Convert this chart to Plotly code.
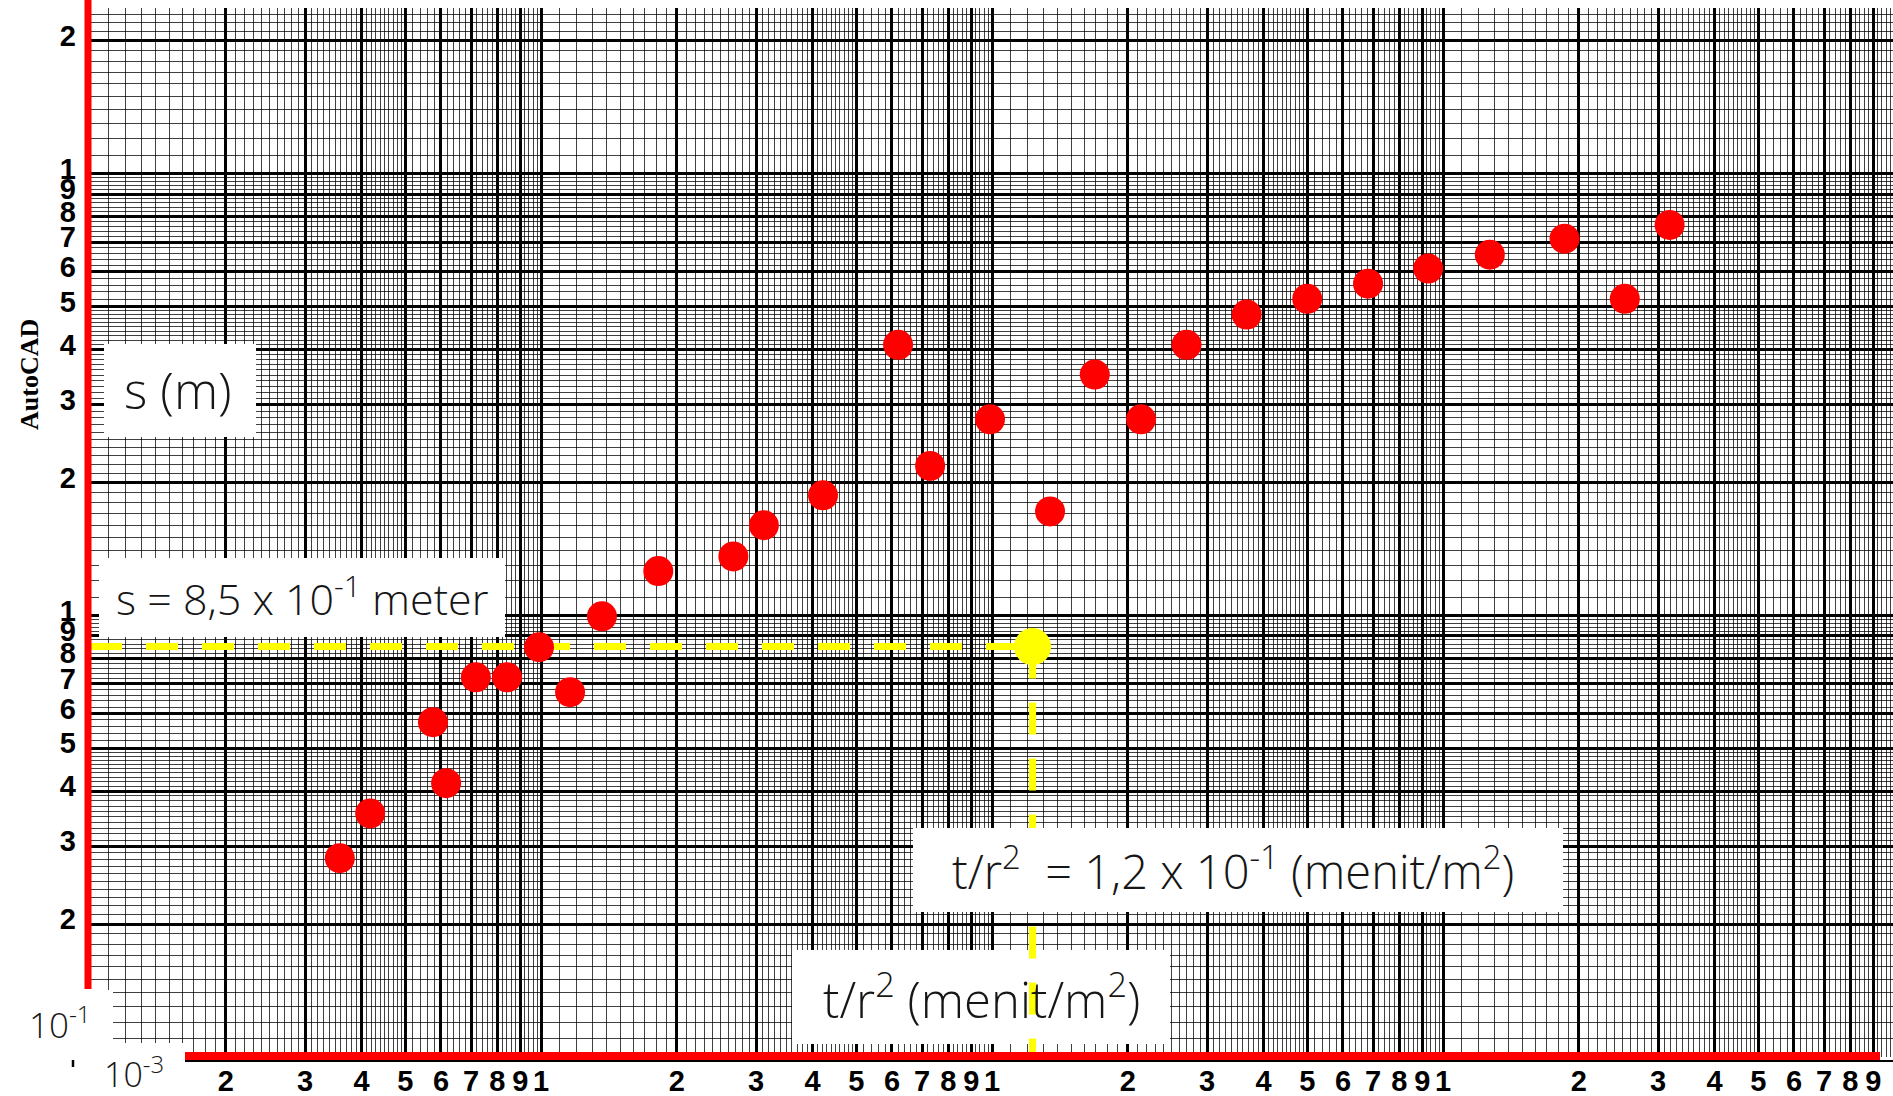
import numpy as np
import plotly.graph_objects as go

# ---- data ----
t_r2 = [0.00358, 0.00418, 0.00576, 0.00616, 0.00717, 0.00841, 0.0099, 0.0116,
        0.01365, 0.0182, 0.0267, 0.0312, 0.0422, 0.0619, 0.0729, 0.099, 0.1345,
        0.169, 0.214, 0.270, 0.367, 0.50, 0.682, 0.927, 1.27, 1.86, 2.53, 3.18]
s_m = [0.282, 0.356, 0.573, 0.417, 0.724, 0.724, 0.847, 0.670, 0.995, 1.26,
       1.36, 1.60, 1.87, 4.10, 2.18, 2.78, 1.72, 3.51, 2.78, 4.10, 4.80, 5.21,
       5.64, 6.10, 6.56, 7.13, 5.21, 7.66]
match_t = [0.123]
match_s = [0.85]

x_decades = [-3, -2, -1, 0]
y_decades = [-1, 0, 1]
digits = [1, 2, 3, 4, 5, 6, 7, 8, 9]

W, H = 1893, 1096
L, R, T, B = 90, 0, 8, 39
PW, PH = W - L - R, H - T - B
XR = [-3, -3 + PW / 451.0]
YR = [-1, -1 + PH / 441.6]


def px(xp):
    return (xp - L) / PW


def py(yp):
    return (H - B - yp) / PH


def major(decades, lo, hi):
    vals, txt = [], []
    for e in decades:
        for d in digits:
            v = d * 10.0 ** e
            if lo < np.log10(v) <= hi + 1e-9:
                vals.append(v)
                txt.append(str(d))
    return vals, txt


def minor(decades):
    vals = []
    for e in decades:
        for k in range(11, 50):
            if k % 10:
                vals.append(k / 10 * 10.0 ** e)
        for k in range(52, 100, 2):
            if k % 10:
                vals.append(k / 10 * 10.0 ** e)
    return vals


xv, xt = major(x_decades, XR[0], XR[1])
yv, yt = major(y_decades + [1], YR[0], YR[1])
xm = minor(x_decades)
ym = minor(y_decades + [1])

fig = go.Figure()

# yellow horizontal guide line (below the red points)
fig.add_trace(go.Scatter(x=[1e-3, match_t[0]], y=[match_s[0], match_s[0]], mode="lines",
                         line=dict(color="#ffff00", width=7, dash="32px,24px"),
                         hoverinfo="skip", showlegend=False))
# data points
fig.add_trace(go.Scatter(x=t_r2, y=s_m, mode="markers",
                         marker=dict(color="#ff0000", size=30, line=dict(width=0)),
                         showlegend=False))
fig.add_trace(go.Scatter(x=match_t, y=match_s, mode="markers",
                         marker=dict(color="#ffff00", size=37, line=dict(width=0)),
                         showlegend=False))

tickfont = dict(family="Liberation Sans", size=29, color="black", weight="bold")
fig.update_xaxes(type="log", range=XR, tickmode="array", tickvals=xv, ticktext=xt,
                 showgrid=True, gridcolor="black", gridwidth=3, ticks="", tickangle=0,
                 tickfont=tickfont, showline=False, zeroline=False, ticklabelstandoff=4,
                 minor=dict(tickmode="array", tickvals=xm, showgrid=True,
                            gridcolor="rgba(0,0,0,0.75)", gridwidth=1.2, ticks=""))
fig.update_yaxes(type="log", range=YR, tickmode="array", tickvals=yv, ticktext=yt,
                 showgrid=True, gridcolor="black", gridwidth=3, ticks="",
                 tickfont=tickfont, showline=False, zeroline=False, ticklabelstandoff=13,
                 ticklabelshift=-5,
                 minor=dict(tickmode="array", tickvals=ym, showgrid=True,
                            gridcolor="rgba(0,0,0,0.75)", gridwidth=1.2, ticks=""))

shapes = []


def rect(x0, y0, x1, y1):
    shapes.append(dict(type="rect", xref="paper", yref="paper", x0=px(x0), x1=px(x1),
                       y0=py(y1), y1=py(y0), fillcolor="white", line=dict(width=0),
                       layer="above"))


rect(104, 344, 256, 437)
rect(99, 558, 505, 637)
rect(792, 950, 1170, 1044)
# yellow vertical guide line, drawn over the lower label box
shapes.append(dict(type="line", xref="x", yref="y", x0=match_t[0], x1=match_t[0],
                   y0=match_s[0], y1=0.1, layer="above",
                   line=dict(color="#ffff00", width=7, dash="32px,24px")))
rect(913, 828, 1563, 912)
rect(89, 990, 113, 1060)
rect(89, 1043, 185, 1060)

# red axes
shapes.append(dict(type="line", xref="paper", yref="paper", x0=px(185), x1=px(1893),
                   y0=py(1061), y1=py(1061), line=dict(color="black", width=2), layer="above"))
shapes.append(dict(type="line", xref="paper", yref="paper", x0=px(185), x1=px(1880),
                   y0=py(1056), y1=py(1056), line=dict(color="#ff0000", width=8), layer="above"))
shapes.append(dict(type="line", xref="paper", yref="paper", x0=px(88), x1=px(88),
                   y0=py(0), y1=py(989), line=dict(color="#ff0000", width=7), layer="above"))
shapes.append(dict(type="line", xref="paper", yref="paper", x0=px(73), x1=px(73),
                   y0=py(1060), y1=py(1067), line=dict(color="black", width=2.5), layer="above"))

lf = dict(family="Open Sans", color="#161616", weight=300)
ann = []


def text(t, xc, yc, size, **kw):
    f = dict(lf, size=size)
    f.update(kw.pop("font", {}))
    ann.append(dict(text=t, x=px(xc), y=py(yc), xref="paper", yref="paper",
                    showarrow=False, xanchor="center", yanchor="middle", font=f, **kw))


text("s (m)", 178, 390, 50)
text("s = 8,5 x 10<sup>-1</sup> meter", 302, 596, 43)
text("t/r<sup>2</sup>  = 1,2 x 10<sup>-1</sup> (menit/m<sup>2</sup>)", 1233, 868, 47)
text("t/r<sup>2</sup> (menit/m<sup>2</sup>)", 981, 996, 49)
text("10<sup>-1</sup>", 60, 1022, 35)
text("10<sup>-3</sup>", 134, 1072, 34)
text("AutoCAD", 30, 375, 26, textangle=-90,
     font=dict(family="Liberation Serif", weight="bold", color="black"))

fig.update_layout(width=W, height=H, margin=dict(l=L, r=R, t=T, b=B, pad=0),
                  paper_bgcolor="white", plot_bgcolor="white", showlegend=False,
                  shapes=shapes, annotations=ann)
fig.write_html("out.html")
